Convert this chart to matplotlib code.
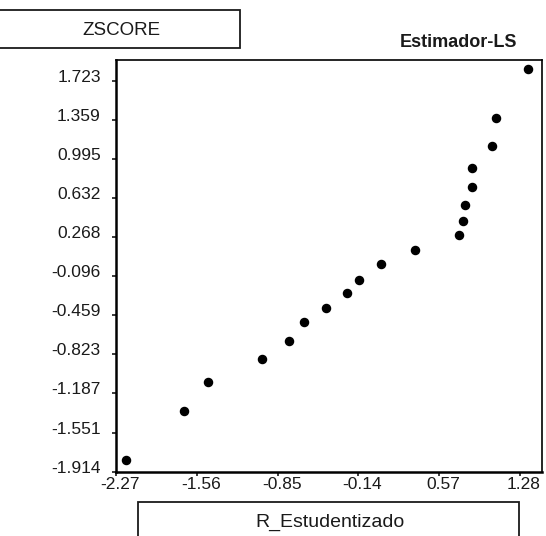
import matplotlib
matplotlib.use("Agg")
import matplotlib.pyplot as plt
import matplotlib.transforms as mtransforms
from matplotlib.patches import Rectangle

# studentized residual vs. normal score
r_estud = [-2.182, -1.675, -1.459, -0.987, -0.750, -0.615, -0.427, -0.243, -0.132,
           0.059, 0.357, 0.744, 0.779, 0.797, 0.858, 0.858, 1.034, 1.069, 1.350]
zscore = [-1.807, -1.351, -1.083, -0.869, -0.699, -0.525, -0.389, -0.255, -0.131,
          0.018, 0.148, 0.288, 0.418, 0.567, 0.735, 0.912, 1.117, 1.377, 1.834]

x_ticks = [-2.27, -1.56, -0.85, -0.14, 0.57, 1.28]
y_ticks = [-1.914, -1.551, -1.187, -0.823, -0.459, -0.096, 0.268, 0.632, 0.995, 1.359, 1.723]

plt.rcParams['font.family'] = ['Liberation Sans', 'DejaVu Sans']
ink = "#1a1a1a"

fig = plt.figure(figsize=(5.46, 5.36), dpi=100)
ax = fig.add_axes([0.2125, 0.1203, 0.780, 0.7678])

ax.scatter(r_estud, zscore, s=34, color="black", zorder=3)

ax.set_xlim(-2.27, 1.473)
ax.set_ylim(-1.914, 1.918)
ax.set_xticks(x_ticks)
ax.set_xticklabels(["%.2f" % v for v in x_ticks])
ax.set_yticks(y_ticks)
ax.set_yticklabels(["%.3f" % v for v in y_ticks])
ax.tick_params(axis="y", length=3, width=1.2, pad=8, labelsize=12.5, colors=ink)
ax.tick_params(axis="x", length=3, width=1.2, pad=1, labelsize=12.5, colors=ink)

# labels in the scan sit a little above their ticks
shift_up = mtransforms.ScaledTranslation(0, 5 / 100, fig.dpi_scale_trans)
for lab in ax.get_yticklabels():
    lab.set_transform(lab.get_transform() + shift_up)
shift_right = mtransforms.ScaledTranslation(4 / 100, 0, fig.dpi_scale_trans)
for lab in ax.get_xticklabels():
    lab.set_transform(lab.get_transform() + shift_right)

for side in ["left", "bottom"]:
    ax.spines[side].set_linewidth(1.8)
for side in ["top", "right"]:
    ax.spines[side].set_linewidth(1.2)

# title boxes
fig.patches.append(Rectangle((-0.01, 0.9104), 0.4496, 0.0709, transform=fig.transFigure,
                             fill=False, edgecolor=ink, linewidth=1.3))
fig.text(0.2216, 0.9425, "ZSCORE", ha="center", va="center", fontsize=13.5, color=ink)
fig.text(0.839, 0.920, "Estimador-LS", ha="center", va="center", fontsize=13,
         fontweight="bold", color=ink)

fig.patches.append(Rectangle((0.2527, -0.02), 0.698, 0.0834, transform=fig.transFigure,
                             fill=False, edgecolor=ink, linewidth=1.3))
fig.text(0.605, 0.0252, "R_Estudentizado", ha="center", va="center", fontsize=14,
         color=ink)

fig.savefig("out.png", dpi=100)
